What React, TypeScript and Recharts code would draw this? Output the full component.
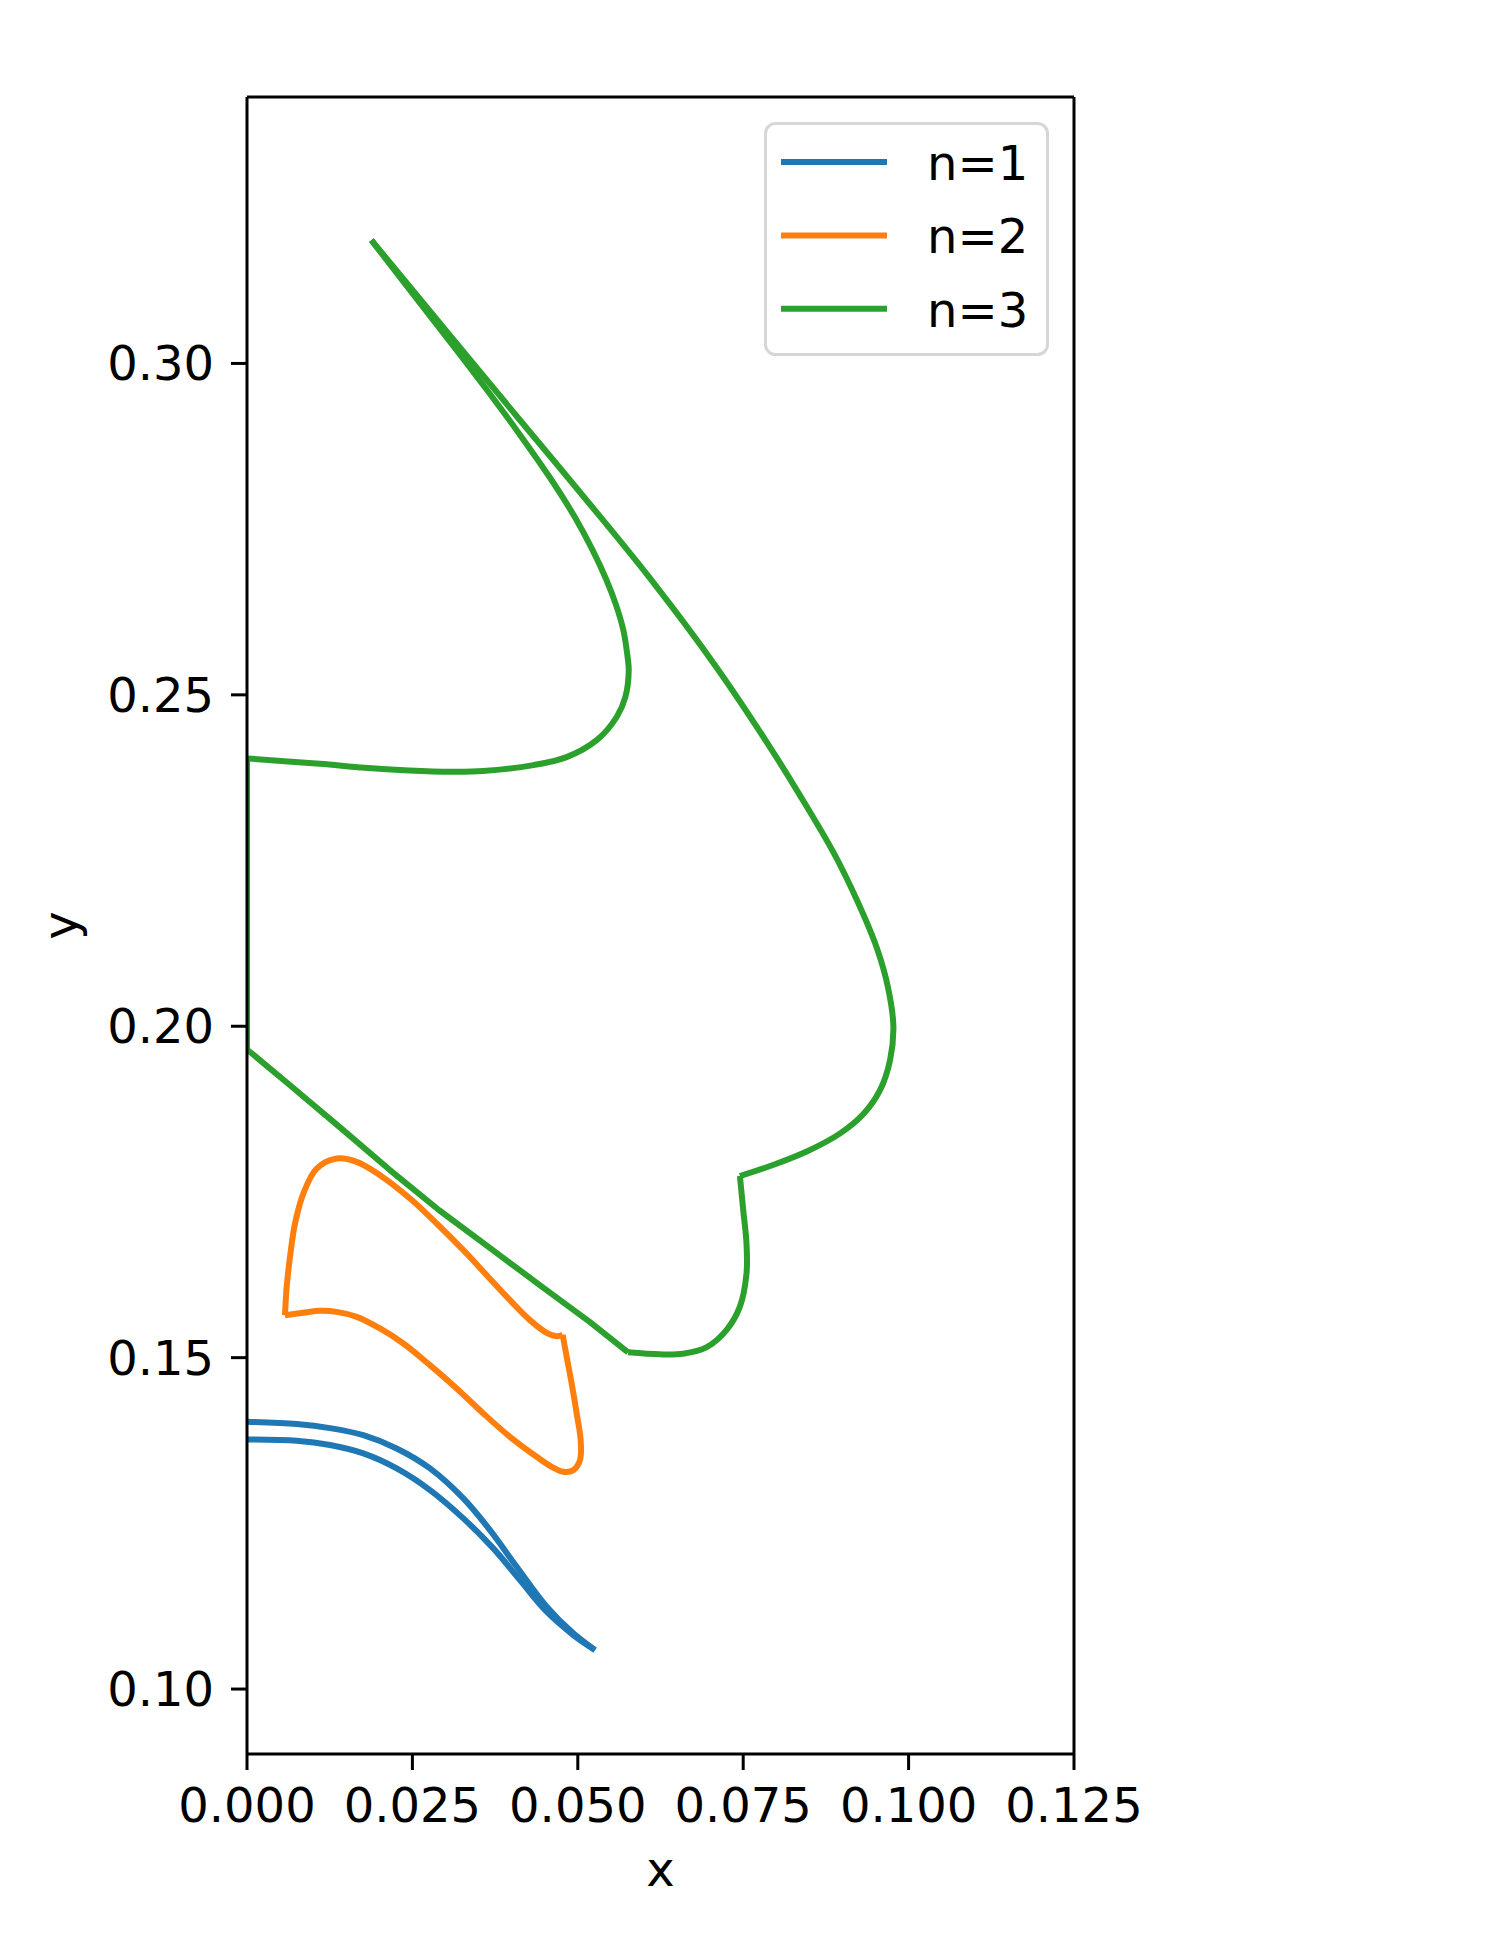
import React from 'react';
import { LineChart, Line, XAxis, YAxis, Legend, ReferenceLine } from 'recharts';

// ---------- data ----------
const seriesNames = ['n=1', 'n=2', 'n=3'];
const seriesColors = ['#1f77b4', '#ff7f0e', '#2ca02c'];

const xTicks = [0, 0.025, 0.05, 0.075, 0.1, 0.125];
const yTicks = [0.1, 0.15, 0.2, 0.25, 0.3];
const xDomain = [0, 0.125];
const yDomain = [0.0902, 0.3402];

// n=1 (blue)
const n1UpperX = [0, 0.0075, 0.01254, 0.01758, 0.02262, 0.02766, 0.0327, 0.03673, 0.04076, 0.0453, 0.04932, 0.0526];
const n1UpperY = [0.14033, 0.13998, 0.13937, 0.13831, 0.1363, 0.13329, 0.12876, 0.12398, 0.11845, 0.11242, 0.1084, 0.10588];
const n1LowerX = [0, 0.0075, 0.01254, 0.01758, 0.02262, 0.02766, 0.0327, 0.03723, 0.04126, 0.0453, 0.04932, 0.0526];
const n1LowerY = [0.13766, 0.13746, 0.13681, 0.13555, 0.13329, 0.13002, 0.12575, 0.12122, 0.11644, 0.11166, 0.10815, 0.10588];

// n=2 (orange)
const n2TopX = [0.00574, 0.006, 0.0065, 0.00726, 0.00851, 0.01053, 0.01355, 0.01658, 0.0201, 0.02464, 0.02867, 0.0327, 0.03623, 0.03975, 0.04277, 0.0453, 0.04681, 0.04771];
const n2TopY = [0.15641, 0.16068, 0.1652, 0.17024, 0.17476, 0.17853, 0.18004, 0.17954, 0.17753, 0.17401, 0.17024, 0.16621, 0.16244, 0.15867, 0.15566, 0.15374, 0.15324, 0.15345];
const n2BottomX = [0.04771, 0.04832, 0.04907, 0.04983, 0.05043, 0.05033, 0.04932, 0.04781, 0.04605, 0.04378, 0.03975, 0.03572, 0.03169, 0.02766, 0.02363, 0.0201, 0.01658, 0.01355, 0.01103, 0.00851, 0.00574];
const n2BottomY = [0.15345, 0.15012, 0.14611, 0.14158, 0.13756, 0.13454, 0.13303, 0.13278, 0.13353, 0.13504, 0.13805, 0.14158, 0.14535, 0.14887, 0.15214, 0.1544, 0.15616, 0.15691, 0.15706, 0.15676, 0.15641];

// n=3 (green)
const n3OuterX = [0.0188, 0.0298, 0.0408, 0.0508, 0.0609, 0.071, 0.0786, 0.0836, 0.0886, 0.0922, 0.0952, 0.0969, 0.0977, 0.0972, 0.0957, 0.0932, 0.0896, 0.0846, 0.0796, 0.0745];
const n3OuterY = [0.3186, 0.3053, 0.292, 0.28, 0.2676, 0.2541, 0.2428, 0.2348, 0.2263, 0.219, 0.2118, 0.2058, 0.1999, 0.1949, 0.1904, 0.1868, 0.1838, 0.1811, 0.1791, 0.1774];
const n3NeckX = [0.0745, 0.075, 0.0755, 0.0755, 0.0745, 0.0725, 0.0695, 0.0659, 0.0624, 0.0576];
const n3NeckY = [0.1774, 0.1723, 0.1672, 0.1627, 0.1577, 0.1542, 0.1516, 0.1506, 0.1505, 0.1508];
const n3ChinX = [0.0576, 0.0518, 0.0443, 0.0368, 0.0291, 0.0216, 0.0141, 0.0065, 0, 0];
const n3ChinY = [0.1508, 0.1554, 0.1609, 0.1665, 0.1722, 0.1783, 0.1847, 0.1911, 0.1965, 0.2404];
const n3InnerX = [0, 0.011, 0.0178, 0.0245, 0.0307, 0.0357, 0.0433, 0.0483, 0.0529, 0.0559, 0.0572, 0.0577, 0.0575, 0.0569, 0.0558, 0.0543, 0.0522, 0.0495, 0.0457, 0.041, 0.0365, 0.032, 0.0256, 0.0188];
const n3InnerY = [0.2404, 0.2396, 0.239, 0.2386, 0.2384, 0.2385, 0.2394, 0.2406, 0.2432, 0.2467, 0.2497, 0.2537, 0.2559, 0.2597, 0.2635, 0.2674, 0.2719, 0.2769, 0.2829, 0.2896, 0.2957, 0.3016, 0.3098, 0.3186];

// ---------- helpers ----------
const zip = (xs: number[], ys: number[]) => xs.map((x, i) => ({ x, y: ys[i] }));

// centripetal Catmull-Rom curve factory (d3 curve interface) for smooth parametric lines
const catmullRom = (context: any) => {
  let pts: number[][] = [];
  const ALPHA = 0.5;
  return {
    areaStart() {},
    areaEnd() {},
    lineStart() {
      pts = [];
    },
    point(x: number, y: number) {
      pts.push([+x, +y]);
    },
    lineEnd() {
      const n = pts.length;
      if (!n) return;
      context.moveTo(pts[0][0], pts[0][1]);
      for (let i = 0; i < n - 1; i++) {
        const p1 = pts[i];
        const p2 = pts[i + 1];
        const p0 = i > 0 ? pts[i - 1] : null;
        const p3 = i + 2 < n ? pts[i + 2] : null;
        const l12 = Math.hypot(p2[0] - p1[0], p2[1] - p1[1]);
        const l12a = Math.pow(l12, ALPHA);
        const l12_2a = Math.pow(l12, 2 * ALPHA);
        let c1x = p1[0];
        let c1y = p1[1];
        let c2x = p2[0];
        let c2y = p2[1];
        if (p0) {
          const l01 = Math.hypot(p1[0] - p0[0], p1[1] - p0[1]);
          const la = Math.pow(l01, ALPHA);
          const l2a = Math.pow(l01, 2 * ALPHA);
          if (la > 1e-9) {
            const a = 2 * l2a + 3 * la * l12a + l12_2a;
            const nn = 3 * la * (la + l12a);
            c1x = (p1[0] * a - p0[0] * l12_2a + p2[0] * l2a) / nn;
            c1y = (p1[1] * a - p0[1] * l12_2a + p2[1] * l2a) / nn;
          }
        }
        if (p3) {
          const l23 = Math.hypot(p3[0] - p2[0], p3[1] - p2[1]);
          const la = Math.pow(l23, ALPHA);
          const l2a = Math.pow(l23, 2 * ALPHA);
          if (la > 1e-9) {
            const b = 2 * l2a + 3 * la * l12a + l12_2a;
            const m = 3 * la * (la + l12a);
            c2x = (p2[0] * b + p1[0] * l2a - p3[0] * l12_2a) / m;
            c2y = (p2[1] * b + p1[1] * l2a - p3[1] * l12_2a) / m;
          }
        }
        context.bezierCurveTo(c1x, c1y, c2x, c2y, p2[0], p2[1]);
      }
    },
  };
};

const segments = [
  { key: 'n1-upper', s: 0, smooth: true, data: zip(n1UpperX, n1UpperY) },
  { key: 'n1-lower', s: 0, smooth: true, data: zip(n1LowerX, n1LowerY) },
  { key: 'n2-top', s: 1, smooth: true, data: zip(n2TopX, n2TopY) },
  { key: 'n2-bottom', s: 1, smooth: true, data: zip(n2BottomX, n2BottomY) },
  { key: 'n3-outer', s: 2, smooth: true, data: zip(n3OuterX, n3OuterY) },
  { key: 'n3-neck', s: 2, smooth: true, data: zip(n3NeckX, n3NeckY) },
  { key: 'n3-chin', s: 2, smooth: false, data: zip(n3ChinX, n3ChinY) },
  { key: 'n3-inner', s: 2, smooth: true, data: zip(n3InnerX, n3InnerY) },
];

const FONT = 'DejaVu Sans';
const FS = 48;

const XLabel = (props: any) => {
  const vb = props.viewBox || { x: 247, y: 1754, width: 827, height: 196 };
  return (
    <text x={vb.x + vb.width / 2} y={vb.y + 132} textAnchor="middle" fontSize={FS} fontFamily={FONT} fill="#000">
      x
    </text>
  );
};

const YLabel = (props: any) => {
  const vb = props.viewBox || { x: 0, y: 97, width: 247, height: 1657 };
  const cx = vb.x + 77;
  const cy = vb.y + vb.height / 2;
  return (
    <text x={cx} y={cy} transform={`rotate(-90 ${cx} ${cy})`} textAnchor="middle" fontSize={FS} fontFamily={FONT} fill="#000">
      y
    </text>
  );
};

const LegendBox = () => {
  const rowGap = 73.4;
  return (
    <svg width={285} height={234} style={{ display: 'block' }}>
      <rect x={1.5} y={1.5} width={282} height={231} rx={10} ry={10} fill="#ffffff" fillOpacity={0.8} stroke="#cccccc" strokeOpacity={0.8} strokeWidth={3} />
      {seriesNames.map((name, i) => {
        const cy = 40 + i * rowGap;
        return (
          <g key={name}>
            <line x1={17} x2={123} y1={cy} y2={cy} stroke={seriesColors[i]} strokeWidth={6} />
            <text x={163} y={cy + 18} fontSize={FS} fontFamily={FONT} fill="#000">
              {name}
            </text>
          </g>
        );
      })}
    </svg>
  );
};

export default function App() {
  return (
    <div style={{ position: 'absolute', left: 0, top: 0, width: 1500, height: 1950, background: '#ffffff' }}>
      <LineChart width={1500} height={1950} margin={{ top: 97, right: 426, bottom: 0, left: 0 }}>
        <XAxis
          xAxisId={0}
          dataKey="x"
          type="number"
          domain={xDomain}
          ticks={xTicks}
          interval={0}
          allowDataOverflow
          tickFormatter={(v: number) => v.toFixed(3)}
          height={196}
          tickSize={16}
          tickMargin={18}
          tick={{ fontSize: FS, fontFamily: FONT, fill: '#000' }}
          tickLine={{ stroke: '#000', strokeWidth: 3 }}
          axisLine={{ stroke: '#000', strokeWidth: 3 }}
          label={{ value: 'x', content: XLabel }}
        />
        <YAxis
          yAxisId={0}
          type="number"
          domain={yDomain}
          ticks={yTicks}
          interval={0}
          allowDataOverflow
          tickFormatter={(v: number) => v.toFixed(2)}
          width={247}
          tickSize={16}
          tickMargin={17}
          tick={{ fontSize: FS, fontFamily: FONT, fill: '#000' }}
          tickLine={{ stroke: '#000', strokeWidth: 3 }}
          axisLine={{ stroke: '#000', strokeWidth: 3 }}
          label={{ value: 'y', content: YLabel }}
        />
        {segments.map((seg) => (
          <Line
            key={seg.key}
            xAxisId={0}
            yAxisId={0}
            data={seg.data}
            dataKey="y"
            type={(seg.smooth ? catmullRom : 'linear') as any}
            stroke={seriesColors[seg.s]}
            strokeWidth={6}
            strokeLinejoin="round"
            dot={false}
            activeDot={false}
            legendType="none"
            isAnimationActive={false}
          />
        ))}
        <ReferenceLine xAxisId={0} yAxisId={0} y={yDomain[1]} stroke="#000" strokeWidth={3} />
        <ReferenceLine xAxisId={0} yAxisId={0} x={xDomain[1]} stroke="#000" strokeWidth={3} />
        <Legend
          layout="horizontal"
          verticalAlign="middle"
          align="center"
          content={() => <LegendBox />}
          wrapperStyle={{ left: 764, top: 122, width: 285, height: 234 }}
        />
      </LineChart>
    </div>
  );
}
